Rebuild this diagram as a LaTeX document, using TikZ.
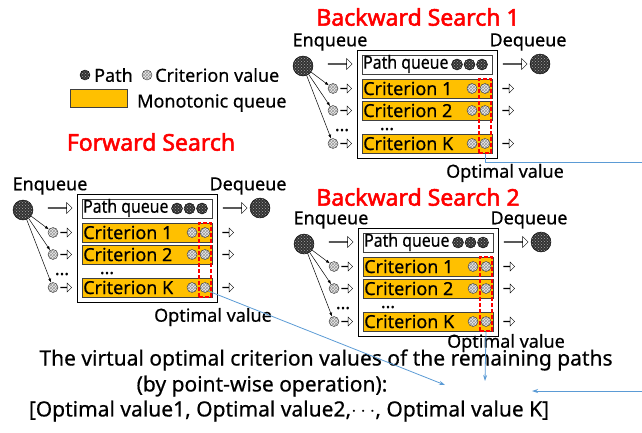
\documentclass[tikz,border=0pt]{standalone}
\usepackage{fontspec}
\setmainfont{Noto Sans}[FakeBold=0.5]
\newfontfamily\titlefont{Noto Sans}[FakeBold=2.2]
\usetikzlibrary{arrows.meta,shapes.arrows,patterns}
\definecolor{queueorange}{HTML}{FFC000}
\definecolor{linkblue}{HTML}{5B9BD5}
\newcommand{\fsz}[1]{\fontsize{#1}{#1}\selectfont}

\tikzset{
  pathdot/.style={circle,draw=black,inner sep=0pt,minimum size=#1,
    preaction={fill=black!80},pattern=crosshatch dots,pattern color=gray!70},
  pathdot/.default=11pt,
  critdot/.style={circle,draw=gray!40!black,inner sep=0pt,minimum size=10pt,
    preaction={fill=gray!15},pattern=crosshatch,pattern color=gray!80},
  bigarrow/.style={single arrow,draw,fill=white,inner sep=0pt,minimum height=24pt,
    minimum width=11pt,single arrow head extend=3pt},
  smallarrow/.style={single arrow,draw,fill=white,inner sep=0pt,minimum height=11pt,
    minimum width=9pt,single arrow head extend=2.5pt},
  critbox/.style={draw=black!75,fill=queueorange,inner sep=0pt,minimum width=130pt,minimum height=19pt},
  label/.style={font=\fsz{18},inner sep=0pt},
  gap/.style={font=\fsz{18},inner sep=0pt,anchor=base,text height=3pt,text depth=0pt},
  title/.style={font=\titlefont\fsz{23},text=red,inner sep=0pt},
  link/.style={linkblue,line width=0.8pt,-{Stealth[length=6pt,width=4pt]}},
}

% one search: path queue plus the K monotonic criterion queues
\newcommand{\searchqueue}[3]{%
  \begin{scope}[shift={(#2,#3)}]
    \node[label] at (330,42) {Enqueue};
    \node[label] at (528,42) {Dequeue};
    \node[pathdot=20pt] (#1-src) at (303,66) {};
    \node[pathdot=20pt] (#1-dst) at (540,64) {};
    \node[bigarrow] (#1-in) at (340,64) {};
    \node[bigarrow] (#1-out) at (515,64) {};
    \node[draw,line width=1pt,inner sep=0pt,minimum width=140pt,minimum height=108pt] (#1-box) at (427,104) {};
    \node[draw=black!75,inner sep=0pt,minimum width=130pt,minimum height=19pt] (#1-pq) at (427,64.5) {};
    \node[label,anchor=west] at (363,64) {\scalebox{0.88}[1]{Path queue}};
    \foreach \x in {457,469.5,482}
      \node[pathdot] at (\x,64.5) {};
    \foreach \r/\y/\t in {1/88.5/Criterion 1,2/110.5/Criterion 2,k/143.5/Criterion K}{
      \node[critbox] (#1-row\r) at (427,\y) {};
      \node[label,anchor=west] at (363,\y) {\t};
      \node[critdot] at (472,\y) {};
      \node[critdot] (#1-opt\r) at (485,\y) {};
      \node[smallarrow] at (508,\y) {};
      \node[critdot] (#1-new\r) at (333,\y) {};
      \node[smallarrow] at (346,\y) {};
      \draw[line width=0.5pt,-{Latex[length=4pt,width=3pt]}] (#1-src) -- (#1-new\r);
    }
    \node[gap] at (342,131) {…};
    \node[gap] at (387,130) {…};
    \node[draw=red,line width=1.2pt,dash pattern=on 4pt off 2pt,inner sep=0pt,minimum width=12pt,
      minimum height=74pt] (#1-opt) at (485,116) {};
  \end{scope}
}

\begin{document}
\begin{tikzpicture}[x=1pt,y=-1pt]
  \useasboundingbox (0,0) rectangle (642,432);

  % legend
  \node[pathdot=10pt] (leg-path) at (85,75) {};
  \node[label,anchor=west] at (94,75) {Path};
  \node[critdot] (leg-crit) at (147,75) {};
  \node[label,anchor=west] at (155,75) {Criterion value};
  \node[critbox,minimum width=57pt,minimum height=18pt] (leg-queue) at (98.5,98) {};
  \node[label,anchor=west] at (137,103) {Monotonic queue};

  % the three searches
  \node[title] at (418,17) {Backward Search 1};
  \searchqueue{bsa}{0}{0}
  \node[label] at (505,173) {Optimal value};

  \node[title] at (151,142) {Forward Search};
  \searchqueue{fs}{-280}{144}
  \node[label] at (213,317) {Optimal value};

  \node[title] at (418,197) {Backward Search 2};
  \searchqueue{bsb}{1}{178}
  \node[label] at (506,343) {Optimal value};

  % combined result
  \node[font=\fsz{21},inner sep=0pt] (res1) at (326,360) {The virtual optimal criterion values of the remaining paths};
  \node[font=\fsz{21},inner sep=0pt] (res2) at (262,386) {(by point-wise operation):};
  \node[font=\fsz{21},inner sep=0pt] (res3) at (289,411) {[Optimal value1, Optimal value2,$\cdots$, Optimal value K]};

  % optimal values sent to the result
  \coordinate (bsa-exit) at (642,162);
  \coordinate (bsa-back) at (642,391);
  \coordinate (res-a) at (532,391);
  \coordinate (res-f) at (445,385);
  \coordinate (res-b) at (485,381);
  \draw[linkblue,line width=0.8pt] (bsa-opt.south) |- (bsa-exit);
  \draw[link] (bsa-back) -- (res-a);
  \draw[link] (fs-optk.south east) -- (res-f);
  \draw[link] (bsb-opt.south) -- (res-b);
\end{tikzpicture}
\end{document}
